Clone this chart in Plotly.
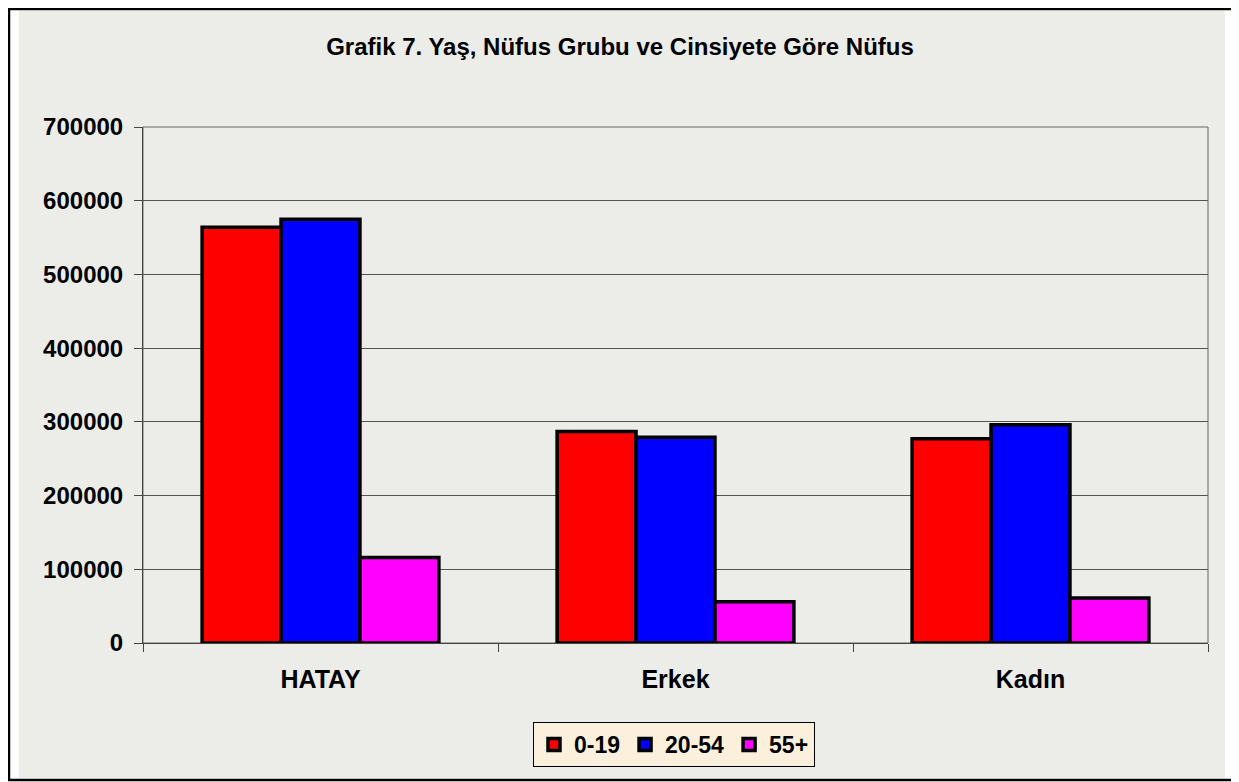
import plotly.graph_objects as go

categories = ["HATAY", "Erkek", "Kadın"]
age_groups = ["0-19", "20-54", "55+"]
values_0_19 = [564000, 287000, 277000]
values_20_54 = [575000, 279000, 296000]
values_55 = [116000, 56000, 61000]
colors = ["#ff0000", "#0000ff", "#ff00ff"]

series = [values_0_19, values_20_54, values_55]

fig = go.Figure()
for name, vals, col in zip(age_groups, series, colors):
    fig.add_trace(go.Bar(
        x=categories, y=vals, name=name,
        marker=dict(color=col, line=dict(color="black", width=3.5)),
    ))

font = "Liberation Sans, Arial, sans-serif"
# page has an 8px body margin, so figure is sized to fit the window
W, H = 1231, 774
L, R, T, B = 135, 31, 119, 139
pw, ph = W - L - R, H - T - B
bg = "#ecece9"

fig.update_layout(
    width=W, height=H,
    margin=dict(l=L, r=R, t=T, b=B),
    barmode="group", bargap=0.333, bargroupgap=0,
    paper_bgcolor="white", plot_bgcolor=bg,
    font=dict(family=font, color="black"),
    title=dict(text="Grafik 7. Yaş, Nüfus Grubu ve Cinsiyete Göre Nüfus",
               x=612 / W, xanchor="center", y=1 - 39 / H, yanchor="middle",
               font=dict(size=24, family=font, weight="bold")),
    showlegend=True,
    legend=dict(orientation="h", x=(666 - L) / pw, xanchor="center",
                y=(H - B - 714) / ph, yanchor="top",
                bgcolor="#fbf0dc", bordercolor="black", borderwidth=1,
                font=dict(size=23, family=font, weight="bold"),
                itemwidth=30, tracegroupgap=0),
)
fig.update_yaxes(range=[0, 700000], dtick=100000, tickformat="d",
                 showgrid=True, gridcolor="#555", gridwidth=1,
                 showline=True, linecolor="#444", linewidth=1,
                 ticks="outside", ticklen=8, tickcolor="#444",
                 ticklabelstandoff=6,
                 tickfont=dict(size=24, family=font, weight="bold"),
                 zeroline=False)
fig.update_xaxes(showline=True, linecolor="#444", linewidth=1,
                 ticks="outside", ticklen=8, tickcolor="#444",
                 tickson="boundaries", ticklabelstandoff=14,
                 tickfont=dict(size=25, family=font, weight="bold"))

# textured chart area, plot frame and outer border
fig.add_shape(type="rect", xref="paper", yref="paper",
              x0=(11 - L) / pw, x1=(1217 - L) / pw,
              y0=(H - B - 770) / ph, y1=(H - B - 3) / ph,
              line=dict(width=0), fillcolor=bg, layer="below")
fig.add_shape(type="rect", xref="paper", yref="paper", x0=0, x1=1, y0=0, y1=1,
              line=dict(color="#666", width=1), layer="below")
fig.add_shape(type="rect", xref="paper", yref="paper",
              x0=(1 - L) / pw, x1=(1229 - L) / pw,
              y0=(H - B - 772) / ph, y1=(H - B - 1) / ph,
              line=dict(color="black", width=2.5))

fig.write_html("out.html")
